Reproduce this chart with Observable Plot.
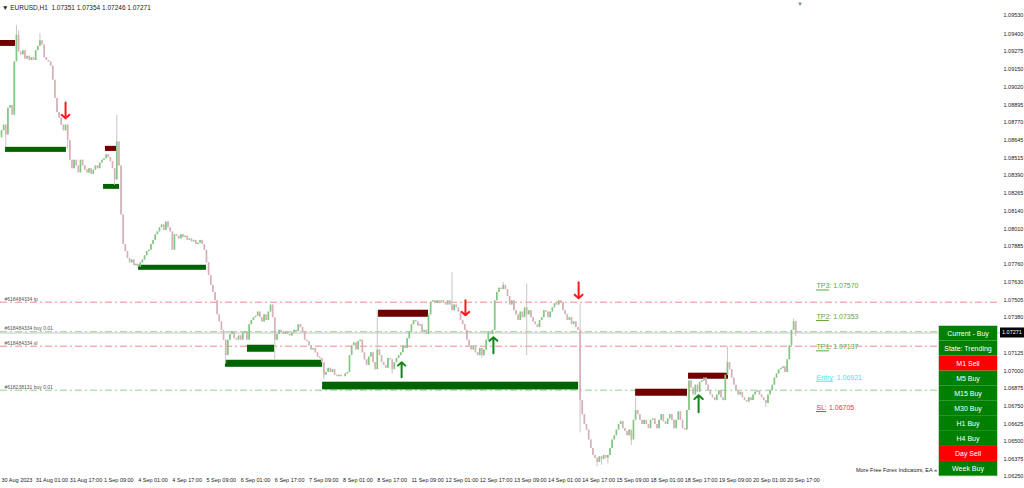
<!DOCTYPE html>
<html><head><meta charset="utf-8">
<script src="https://cdn.jsdelivr.net/npm/d3@7"></script>
<script src="https://cdn.jsdelivr.net/npm/@observablehq/plot@0.6"></script>
<style>
html,body{margin:0;padding:0;background:#fff;}
#chart{position:relative;width:1024px;height:488px;overflow:hidden;}
svg{display:block}
</style></head><body><div id="chart"></div>
<script>
// EURUSD H1 closes, one per bar, from 30 Aug 2023 09:00 to 20 Sep 2023 21:00
const closes = [
1.0871,1.0875,1.0868,1.0887,1.0889,1.0882,1.0920,1.0939,1.0927,1.0925,
1.0928,1.0922,1.0924,1.0921,1.0923,1.0921,1.0928,1.0931,1.0935,1.0932,
1.0923,1.0921,1.0920,1.0917,1.0907,1.0894,1.0884,1.0880,1.0875,1.0871,
1.0875,1.0864,1.0850,1.0844,1.0850,1.0846,1.0841,1.0850,1.0846,1.0843,
1.0841,1.0844,1.0840,1.0843,1.0846,1.0844,1.0848,1.0850,1.0851,1.0854,
1.0852,1.0849,1.0844,1.0836,1.0863,1.0846,1.0811,1.0790,1.0785,1.0780,
1.0777,1.0779,1.0775,1.0776,1.0774,1.0777,1.0779,1.0782,1.0785,1.0786,
1.0790,1.0793,1.0797,1.0799,1.0802,1.0804,1.0800,1.0806,1.0802,1.0799,
1.0786,1.0797,1.0796,1.0794,1.0797,1.0795,1.0796,1.0793,1.0794,1.0792,
1.0793,1.0790,1.0791,1.0793,1.0790,1.0786,1.0777,1.0768,1.0761,1.0756,
1.0750,1.0740,1.0735,1.0729,1.0722,1.0711,1.0722,1.0726,1.0728,1.0723,
1.0722,1.0725,1.0722,1.0727,1.0728,1.0722,1.0733,1.0736,1.0738,1.0739,
1.0742,1.0738,1.0735,1.0740,1.0736,1.0742,1.0747,1.0738,1.0722,1.0726,
1.0729,1.0728,1.0726,1.0728,1.0726,1.0725,1.0727,1.0729,1.0728,1.0733,
1.0731,1.0728,1.0722,1.0721,1.0718,1.0715,1.0716,1.0713,1.0710,1.0709,
1.0706,1.0697,1.0699,1.0702,1.0699,1.0701,1.0697,1.0696,1.0697,1.0696,
1.0696,1.0698,1.0699,1.0711,1.0718,1.0720,1.0715,1.0721,1.0722,1.0713,
1.0708,1.0704,1.0710,1.0713,1.0706,1.0701,1.0715,1.0711,1.0706,1.0704,
1.0702,1.0709,1.0708,1.0701,1.0706,1.0709,1.0711,1.0713,1.0718,1.0716,
1.0723,1.0728,1.0733,1.0736,1.0735,1.0732,1.0733,1.0728,1.0729,1.0726,
1.0740,1.0749,1.0750,1.0748,1.0750,1.0749,1.0750,1.0748,1.0747,1.0750,
1.0747,1.0743,1.0747,1.0745,1.0742,1.0736,1.0733,1.0729,1.0722,1.0718,
1.0715,1.0718,1.0713,1.0711,1.0716,1.0711,1.0715,1.0722,1.0728,1.0726,
1.0729,1.0750,1.0756,1.0759,1.0758,1.0761,1.0758,1.0753,1.0747,1.0750,
1.0743,1.0740,1.0736,1.0742,1.0738,1.0745,1.0740,1.0743,1.0738,1.0735,
1.0733,1.0731,1.0736,1.0738,1.0743,1.0742,1.0738,1.0742,1.0745,1.0748,
1.0747,1.0750,1.0749,1.0743,1.0740,1.0736,1.0738,1.0733,1.0735,1.0731,
1.0729,1.0679,1.0669,1.0662,1.0658,1.0651,1.0645,1.0640,1.0638,1.0635,
1.0639,1.0637,1.0640,1.0638,1.0640,1.0645,1.0651,1.0654,1.0658,1.0662,
1.0664,1.0659,1.0657,1.0654,1.0658,1.0651,1.0665,1.0672,1.0669,1.0665,
1.0662,1.0665,1.0662,1.0659,1.0665,1.0666,1.0662,1.0659,1.0665,1.0669,
1.0664,1.0662,1.0666,1.0669,1.0665,1.0659,1.0665,1.0671,1.0665,1.0659,
1.0658,1.0672,1.0693,1.0688,1.0683,1.0690,1.0685,1.0692,1.0693,1.0695,
1.0690,1.0686,1.0683,1.0681,1.0679,1.0683,1.0686,1.0681,1.0679,1.0697,
1.0706,1.0701,1.0695,1.0690,1.0686,1.0683,1.0685,1.0681,1.0679,1.0678,
1.0681,1.0679,1.0683,1.0685,1.0686,1.0683,1.0681,1.0679,1.0677,1.0683,
1.0686,1.0690,1.0695,1.0698,1.0701,1.0702,1.0703,1.0699,1.0708,1.0718,
1.0729,1.07351,1.07271
];
const firstOpen = 1.0866;
// bars whose wicks reach beyond the body: [bar, high, low]
const wickExtremes = [
[2,null,1.0859],[7,1.0946,null],[8,1.0942,null],[18,1.0940,null],[25,1.0900,null],[31,null,1.0858],
[53,null,1.0832],[54,1.0882,null],[98,1.0766,null],[105,null,1.0705],[128,null,1.0708],
[151,null,1.0694],[176,1.0743,null],[183,null,1.0698],[211,1.0770,null],[225,null,1.0709],
[235,1.0763,null],[246,1.0762,1.0711],[271,1.0748,1.0656],[279,null,1.0632],[281,null,1.0633],
[284,null,1.0634],[295,null,1.0647],[297,1.0681,null],[340,1.0717,null],[358,null,1.0674],
[371,1.0737,null],[372,1.07354,1.07246]
];
const xLabelBars = [0,16,32,48,64,80,96,112,128,144,160,176,192,208,224,240,256,272,288,304,320,336,352,368];
const xLabels = ["30 Aug 2023","31 Aug 01:00","31 Aug 17:00","1 Sep 09:00","4 Sep 01:00","4 Sep 17:00","5 Sep 09:00","6 Sep 01:00","6 Sep 17:00","7 Sep 09:00","8 Sep 01:00","8 Sep 17:00","11 Sep 09:00","12 Sep 01:00","12 Sep 17:00","13 Sep 09:00","14 Sep 01:00","14 Sep 17:00","15 Sep 09:00","18 Sep 01:00","18 Sep 17:00","19 Sep 09:00","20 Sep 01:00","20 Sep 17:00"];
const yTicks = [1.09530,1.09400,1.09275,1.09150,1.09020,1.08895,1.08770,1.08645,1.08515,1.08390,1.08265,1.08140,1.08010,1.07885,1.07760,1.07630,1.07505,1.07380,1.07125,1.07000,1.06875,1.06750,1.06625,1.06500,1.06375,1.06250];
// supply (sell) / demand (buy) zones: bar start, bar end, top, bottom
const zoneKind   = ["sell","buy","sell","buy","buy","buy","buy","buy","sell","sell","sell"];
const zoneStart  = [-0.5, 1.9, 48.7, 47.8, 64.2, 115.2, 104.9, 150.4, 176.6, 297.0, 321.8];
const zoneEnd    = [6.6, 30.4, 53.9, 55.3, 96.0, 127.9, 150.4, 270.3, 200.0, 321.3, 340.5];
const zoneTop    = [1.09352,1.08592,1.08599,1.08328,1.07753,1.07184,1.07077,1.06921,1.07433,1.06871,1.06985];
const zoneBottom = [1.09310,1.08556,1.08563,1.08293,1.07717,1.07134,1.07027,1.06866,1.07383,1.06821,1.06942];
// order lines
const levelPrice = [1.07490, 1.07280, 1.07177, 1.06864];
const levelLabel = ["#618484334 tp","#618484334 buy 0.01","#618484334 sl","#618238131 buy 0.01"];
const levelKind  = ["stop","buy","stop","buy"];
const bid = 1.07271;
// signal arrows: bar, tail price, head price
const signalBar  = [30, 217.3, 270.3, 187.4, 230.4, 326.5];
const signalFrom = [1.08911, 1.07504, 1.07632, 1.06956, 1.07127, 1.06707];
const signalTo   = [1.08798, 1.07397, 1.07518, 1.07063, 1.07241, 1.06828];
const signalSide = ["sell","sell","sell","buy","buy","buy"];
// trade targets
const targetName  = ["TP3","TP2","TP1","Entry","SL"];
const targetPrice = [1.07570, 1.07353, 1.07137, 1.06921, 1.06705];
// dashboard
const panelRows = ["Current - Buy","State: Trending","M1 Sell","M5 Buy","M15 Buy","M30 Buy","H1 Buy","H4 Buy","Day Sell","Week Buy"];
const panelSide = ["buy","buy","sell","buy","buy","buy","buy","buy","sell","buy"];
const header = "EURUSD,H1  1.07351 1.07354 1.07246 1.07271";

const ext = new Map(wickExtremes.map(([i,h,l]) => [i, {h, l}]));
const bars = closes.map((c, i) => {
  const o = i ? closes[i-1] : firstOpen;
  const e = ext.get(i) || {};
  return {i, open: o, close: c,
    high: Math.max(o, c, e.h ?? -Infinity),
    low: Math.min(o, c, e.l ?? Infinity)};
});
const zones = zoneKind.map((k, j) => ({k, x1: zoneStart[j], x2: zoneEnd[j], top: zoneTop[j], bottom: zoneBottom[j]}));
const levels = levelPrice.map((p, j) => ({p, label: levelLabel[j], k: levelKind[j]}));
const signals = signalBar.map((b, j) => ({b, from: signalFrom[j], to: signalTo[j], s: signalSide[j]}));
const tcol = {TP3:"#5ea83a", TP2:"#5ea83a", TP1:"#5ea83a", Entry:"#4fe0f0", SL:"#ff3030"};
const ulen = {TP3:6.1, TP2:6.1, TP1:6.1, Entry:8.0, SL:4.7};
const targets = targetName.map((n, j) => ({n, p: targetPrice[j]}));
const tx = 381.7;

const chart = Plot.plot({
  width: 1024, height: 488,
  marginLeft: 0, marginRight: 24, marginTop: 0, marginBottom: 12,
  x: {type: "linear", domain: [-0.468, 467.9]},
  y: {domain: [1.0625, 1.096367]},
  style: {background: "#fff", fontFamily: "'Liberation Sans', Arial, sans-serif", fontSize: "5.5px", color: "#222"},
  marks: [
    Plot.ruleY(levels, {y: "p", stroke: d => d.k === "stop" ? "#f08a8a" : "#8fd48f", strokeWidth: 1, strokeDasharray: "7,3,2,3"}),
    Plot.ruleY([bid], {stroke: "#c4c4c4", strokeWidth: 1}),
    Plot.text(levels, {x: 1.4, y: "p", text: "label", textAnchor: "start", lineAnchor: "bottom", dy: -1.5, fontSize: 5, fill: "#555"}),
    Plot.rect(zones, {x1: "x1", x2: "x2", y1: "bottom", y2: "top", fill: d => d.k === "sell" ? "#6e0000" : "#006400"}),
    Plot.ruleX(bars, {x: "i", y1: "low", y2: "high", stroke: "#cbc3c5", strokeWidth: 1}),
    Plot.ruleX(bars, {x: "i", y1: "open", y2: "close", stroke: d => d.close >= d.open ? "#82c882" : "#d8b0b8", strokeWidth: 1.7}),
    Plot.arrow(signals, {x1: "b", x2: "b", y1: "from", y2: "to", stroke: d => d.s === "sell" ? "#ff1a1a" : "#11861a", strokeWidth: 2, headLength: 8, headAngle: 95}),
    Plot.text(targets, {x: tx, y: "p", text: d => `${d.n}: ${d.p.toFixed(5)}`, fill: d => tcol[d.n], textAnchor: "start", lineAnchor: "bottom", dy: -2.5, fontSize: 7}),
    Plot.ruleY(targets, {y: "p", x1: tx, x2: d => tx + ulen[d.n], stroke: d => tcol[d.n], dy: -1, strokeWidth: 1}),
    Plot.axisY(yTicks, {anchor: "right", tickSize: 0, tickPadding: 3, tickFormat: d => d.toFixed(5), fontSize: 5.5, fill: "#222"}),
    Plot.axisX(xLabelBars, {anchor: "bottom", tickSize: 0, tickPadding: 2, tickFormat: (d, j) => xLabels[j], textAnchor: "start", fontSize: 5.5, fill: "#222"})
  ]
});
document.getElementById("chart").append(chart);

const svg = d3.select(chart);
const y = chart.scale("y");
const py = y.apply(bid);
const txt = (x, yy, s, size, fill, anchor = "start") =>
  svg.append("text").attr("x", x).attr("y", yy).attr("font-size", size).attr("fill", fill)
    .attr("text-anchor", anchor).text(s);
svg.append("rect").attr("x", 1000).attr("y", py - 5).attr("width", 24).attr("height", 10).attr("fill", "#000");
txt(1002, py + 2, bid.toFixed(5), 5.5, "#fff");
txt(2, 9.5, "▼ " + header, 6.5, "#222");
txt(797, 6, "▼", 6, "#888");

const top0 = 325.5, rowH = 15.05, px = 938.5, pw = 59;
panelRows.forEach((t, j) => {
  svg.append("rect").attr("x", px).attr("y", top0 + j * rowH).attr("width", pw).attr("height", rowH)
    .attr("fill", panelSide[j] === "sell" ? "#ff0000" : "#008000");
  txt(px + pw / 2, top0 + j * rowH + rowH / 2 + 2.5, t, 7, "#fff", "middle");
});
svg.append("rect").attr("x", px).attr("y", top0).attr("width", pw).attr("height", rowH * panelRows.length)
  .attr("fill", "none").attr("stroke", "#cfe3cf").attr("stroke-width", 0.8);
txt(937, 472, "More Free Forex Indicators, EA »", 5.5, "#222", "end");
</script></body></html>
